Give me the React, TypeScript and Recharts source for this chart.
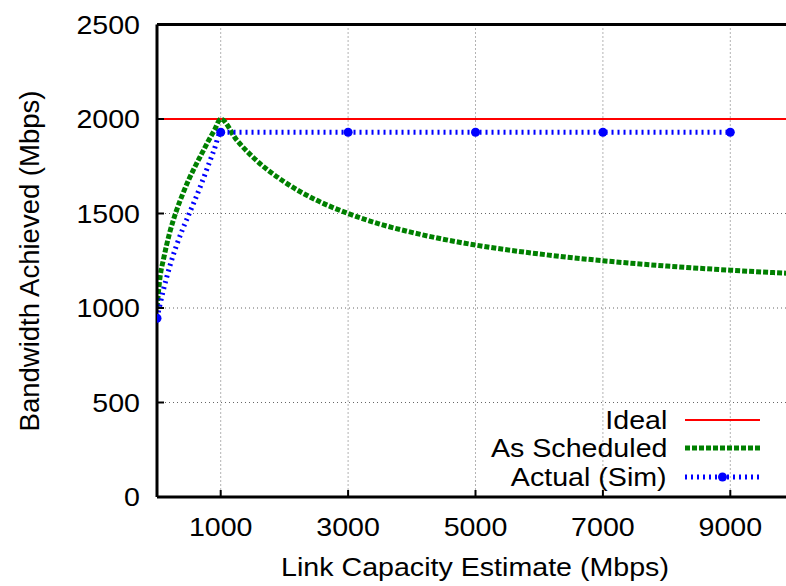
import { LineChart, Line, XAxis, YAxis, CartesianGrid } from "recharts";

// values
const xTicks = [1000, 3000, 5000, 7000, 9000];
const yTicks = [0, 500, 1000, 1500, 2000, 2500];

const idealX = [0, 10000];
const idealY = [2000, 2000];

const schedX = [0, 50, 100, 200, 300, 400, 500, 600, 700, 800, 900, 1000, 1250, 1500, 2000, 2500, 3000, 3500, 4000, 5000, 6000, 7000, 8000, 9000, 10000];
const schedY = [1000, 1170, 1255, 1400, 1510, 1600, 1680, 1750, 1815, 1880, 1940, 2000, 1889, 1800, 1667, 1571, 1500, 1444, 1400, 1333, 1286, 1250, 1222, 1200, 1182];

const simX = [0, 100, 200, 300, 400, 500, 600, 700, 800, 900, 1000, 3000, 5000, 7000, 9000];
const simY = [946, 1095, 1220, 1325, 1415, 1495, 1575, 1660, 1750, 1840, 1930, 1930, 1930, 1930, 1930];
const simMarkX = [0, 1000, 3000, 5000, 7000, 9000];

const zip = (xs: number[], ys: number[]) => xs.map((x, i) => ({ x, y: ys[i] }));
const ideal = zip(idealX, idealY);
const sched = zip(schedX, schedY);
const sim = zip(simX, simY);

const FONT = "'Liberation Sans', Arial, sans-serif";
const FS = 26;
const STRETCH = 1.1;

function XTick({ x, y, payload }: any) {
  return (
    <g transform={`translate(${x},${y}) scale(${STRETCH},1)`}>
      <text textAnchor="middle" dy="0.71em" fontFamily={FONT} fontSize={FS} fill="#000">
        {payload.value}
      </text>
    </g>
  );
}

function YTick({ x, y, payload }: any) {
  return (
    <g transform={`translate(${x},${y}) scale(${STRETCH},1)`}>
      <text textAnchor="end" dy="0.36em" fontFamily={FONT} fontSize={FS} fill="#000">
        {payload.value}
      </text>
    </g>
  );
}

function simDot(p: any) {
  if (!simMarkX.includes(p.payload.x)) return <g key={`d${p.index}`} />;
  return <circle key={`d${p.index}`} cx={p.cx} cy={p.cy} r={4.5} fill="#0000ff" />;
}

const legendRows = [
  { name: "Ideal", y: 420, stroke: "#ff0000", width: 2, dash: undefined as string | undefined, mark: false },
  { name: "As Scheduled", y: 448, stroke: "#008000", width: 5, dash: "5 2", mark: false },
  { name: "Actual (Sim)", y: 477, stroke: "#0000ff", width: 5, dash: "2 4", mark: true },
];

export default function App() {
  const axisLine = { stroke: "#000", strokeWidth: 3 };
  const tickLine = { stroke: "#000", strokeWidth: 2 };
  return (
    <div style={{ position: "absolute", left: 0, top: 0, width: 786, height: 586, overflow: "hidden", background: "#fff", fontFamily: FONT }}>
      <LineChart width={800} height={586} margin={{ top: 19.5, right: 6, bottom: 29, left: 97 }}>
        <CartesianGrid stroke="#666" strokeDasharray="1 3" />
        <XAxis xAxisId={0} type="number" dataKey="x" domain={[0, 10000]} ticks={xTicks} height={60}
          axisLine={axisLine} tickLine={tickLine} tickSize={-7} tickMargin={28} tick={<XTick />} allowDataOverflow />
        <XAxis xAxisId="top" orientation="top" type="number" dataKey="x" domain={[0, 10000]} ticks={xTicks} height={5}
          axisLine={axisLine} tickLine={tickLine} tickSize={-7} tick={false} />
        <YAxis type="number" domain={[0, 2500]} ticks={yTicks} width={60}
          axisLine={axisLine} tickLine={tickLine} tickSize={-7} tickMargin={24} tick={<YTick />} />
        <Line data={ideal} dataKey="y" type="linear" stroke="#ff0000" strokeWidth={2} dot={false} activeDot={false} isAnimationActive={false} />
        <Line data={sched} dataKey="y" type="monotone" stroke="#008000" strokeWidth={5} strokeDasharray="5 2" dot={false} activeDot={false} isAnimationActive={false} />
        <Line data={sim} dataKey="y" type="monotone" stroke="#0000ff" strokeWidth={5} strokeDasharray="2 4" dot={simDot} activeDot={false} isAnimationActive={false} />
      </LineChart>

      {legendRows.map((r) => (
        <div key={r.name}>
          <div style={{ position: "absolute", right: 786 - 667, top: r.y - 15, fontSize: FS, lineHeight: "30px", whiteSpace: "nowrap", transform: `scaleX(${STRETCH})`, transformOrigin: "right center" }}>
            {r.name}
          </div>
          <svg style={{ position: "absolute", left: 685, top: r.y - 6 }} width={76} height={12}>
            <line x1={0} y1={6} x2={75} y2={6} stroke={r.stroke} strokeWidth={r.width} strokeDasharray={r.dash} />
            {r.mark && <circle cx={37.5} cy={6} r={4.5} fill="#0000ff" />}
          </svg>
        </div>
      ))}

      <div style={{ position: "absolute", left: 475, top: 567, transform: `translate(-50%, -50%) scaleX(${STRETCH})`, fontSize: FS, whiteSpace: "nowrap" }}>
        Link Capacity Estimate (Mbps)
      </div>
      <div style={{ position: "absolute", left: 30, top: 261, transform: "translate(-50%, -50%) rotate(-90deg)", fontSize: 27.5, whiteSpace: "nowrap" }}>
        Bandwidth Achieved (Mbps)
      </div>
    </div>
  );
}
